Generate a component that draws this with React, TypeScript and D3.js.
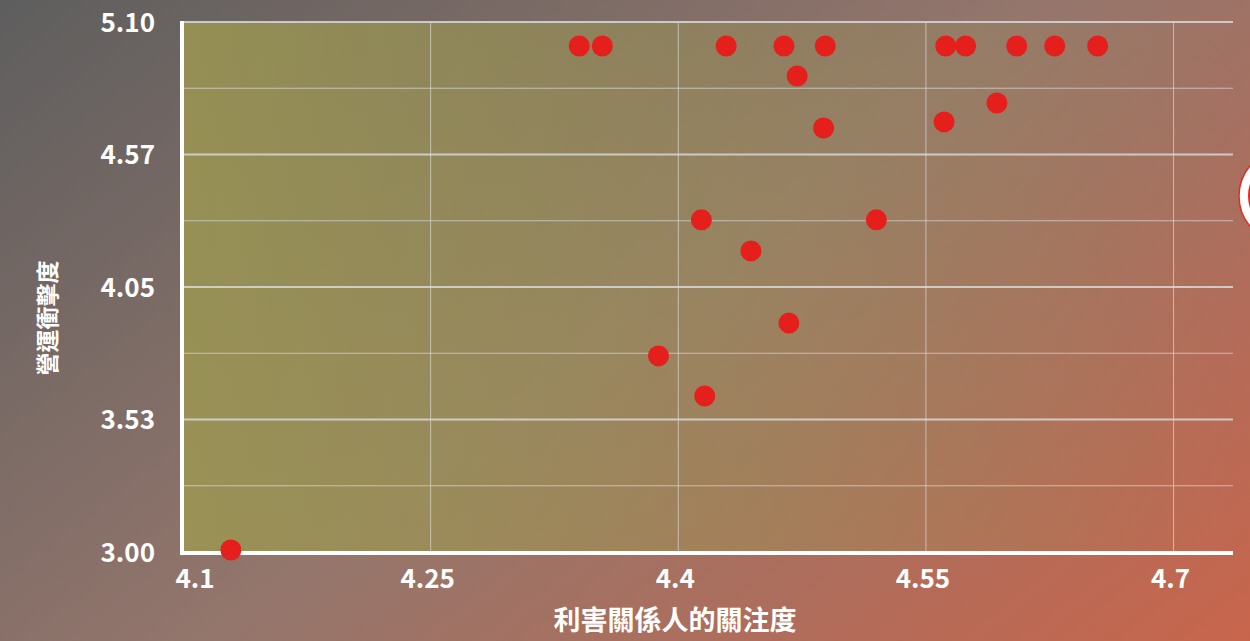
import * as d3 from 'd3';
import React, { useEffect, useRef } from 'react';

type Point = { x: number; y: number };

// 利害關係人的關注度 (x) / 營運衝擊度 (y)
const xValues = [4.340, 4.354, 4.429, 4.464, 4.489, 4.562, 4.574, 4.605, 4.628, 4.654,
  4.472, 4.593, 4.561, 4.488, 4.414, 4.520, 4.444, 4.467, 4.388, 4.416, 4.129];
const yValues = [5.005, 5.005, 5.005, 5.005, 5.005, 5.005, 5.005, 5.005, 5.005, 5.005,
  4.886, 4.779, 4.704, 4.680, 4.316, 4.316, 4.193, 3.907, 3.777, 3.618, 3.008];

const xTicks = [4.1, 4.25, 4.4, 4.55, 4.7];
const yTicks = [3.0, 3.525, 4.05, 4.575, 5.1];
const yTickLabels = ['3.00', '3.53', '4.05', '4.57', '5.10'];
const xTitle = '利害關係人的關注度';
const yTitle = '營運衝擊度';

const W = 1250;
const H = 641;
const FONT = '"Noto Sans CJK TC", "Noto Sans", sans-serif';

const App: React.FC = () => {
  const ref = useRef<SVGSVGElement | null>(null);

  useEffect(() => {
    const svg = d3.select(ref.current);
    svg.selectAll('*').remove();
    const margin = { top: 22, right: 17, bottom: 89, left: 183 };
    const innerW = W - margin.left - margin.right;
    const innerH = H - margin.top - margin.bottom;
    const data: Point[] = xValues.map((x, i) => ({ x, y: yValues[i] }));

    const x = d3.scaleLinear().domain([4.1, 4.736]).range([0, innerW]);
    const y = d3.scaleLinear().domain([3.0, 5.1]).range([innerH, 0]);

    const defs = svg.append('defs');
    const bg = defs.append('linearGradient').attr('id', 'bg')
      .attr('gradientUnits', 'userSpaceOnUse')
      .attr('x1', 0).attr('y1', 0).attr('x2', 774).attr('y2', 1007);
    bg.append('stop').attr('offset', 0).attr('stop-color', '#5e5e5e');
    bg.append('stop').attr('offset', 0.5).attr('stop-color', '#94766c');
    bg.append('stop').attr('offset', 1).attr('stop-color', '#c8654c');

    const ov = defs.append('linearGradient').attr('id', 'ov')
      .attr('x1', 0).attr('y1', 0).attr('x2', 1).attr('y2', 0);
    ov.append('stop').attr('offset', 0).attr('stop-color', '#9c9752').attr('stop-opacity', 0.85);
    ov.append('stop').attr('offset', 1).attr('stop-color', '#9c9752').attr('stop-opacity', 0);

    svg.append('rect').attr('width', W).attr('height', H).attr('fill', 'url(#bg)');

    const g = svg.append('g').attr('transform', `translate(${margin.left},${margin.top})`);
    g.append('rect').attr('width', innerW).attr('height', innerH).attr('fill', 'url(#ov)');

    // minor horizontal grid
    const minor = d3.range(0, yTicks.length - 1).map(i => (yTicks[i] + yTicks[i + 1]) / 2);
    g.selectAll('.minor').data(minor).enter().append('line')
      .attr('x1', 0).attr('x2', innerW)
      .attr('y1', d => y(d)).attr('y2', d => y(d))
      .attr('stroke', '#d8d8d8').attr('stroke-opacity', 0.7).attr('stroke-width', 1);

    // vertical grid
    g.selectAll('.vgrid').data(xTicks.slice(1)).enter().append('line')
      .attr('x1', d => x(d)).attr('x2', d => x(d))
      .attr('y1', 0).attr('y2', innerH)
      .attr('stroke', '#d8d8d8').attr('stroke-opacity', 0.7).attr('stroke-width', 1);

    // major horizontal grid
    g.selectAll('.major').data(yTicks.slice(1)).enter().append('line')
      .attr('x1', 0).attr('x2', innerW)
      .attr('y1', d => y(d)).attr('y2', d => y(d))
      .attr('stroke', '#d8d8d8').attr('stroke-opacity', 0.85).attr('stroke-width', 2);

    // axis lines
    g.append('line').attr('x1', -1).attr('x2', -1).attr('y1', -1).attr('y2', innerH + 3)
      .attr('stroke', '#ffffff').attr('stroke-width', 4);
    g.append('line').attr('x1', -3).attr('x2', innerW).attr('y1', innerH + 1).attr('y2', innerH + 1)
      .attr('stroke', '#ffffff').attr('stroke-width', 4);

    // tick labels
    g.selectAll('.xl').data(xTicks).enter().append('text')
      .attr('x', (d, i) => x(d) + (i === 0 ? 12 : -3))
      .attr('y', innerH + 36)
      .attr('text-anchor', 'middle')
      .attr('fill', '#ffffff').attr('font-family', FONT).attr('font-weight', 700).attr('font-size', 26)
      .text(d => String(d));

    g.selectAll('.yl').data(yTicks).enter().append('text')
      .attr('x', -28).attr('y', d => y(d) + 9.5)
      .attr('text-anchor', 'end')
      .attr('fill', '#ffffff').attr('font-family', FONT).attr('font-weight', 700).attr('font-size', 26)
      .text((d, i) => yTickLabels[i]);

    // titles
    svg.append('text').attr('x', 675).attr('y', 630).attr('text-anchor', 'middle')
      .attr('fill', '#ffffff').attr('font-family', FONT).attr('font-weight', 700).attr('font-size', 27)
      .text(xTitle);
    svg.append('text').attr('transform', 'translate(56,318) rotate(-90)').attr('text-anchor', 'middle')
      .attr('fill', '#ffffff').attr('font-family', FONT).attr('font-weight', 700).attr('font-size', 23)
      .text(yTitle);

    // points
    g.selectAll('.pt').data(data).enter().append('circle')
      .attr('cx', d => x(d.x)).attr('cy', d => y(d.y)).attr('r', 10.5)
      .attr('fill', '#e41f1c');

    // partially visible badge at the right edge
    svg.append('circle').attr('cx', 1286).attr('cy', 196).attr('r', 47)
      .attr('fill', '#ffffff').attr('stroke', '#e52a24').attr('stroke-width', 1.5);
    svg.append('circle').attr('cx', 1286).attr('cy', 196).attr('r', 37)
      .attr('fill', 'none').attr('stroke', '#e52a24').attr('stroke-width', 2);
  }, []);

  return (
    <div style={{ position: 'absolute', left: 0, top: 0 }}>
      <svg ref={ref} width={W} height={H} style={{ display: 'block' }} />
    </div>
  );
};

export default App;
